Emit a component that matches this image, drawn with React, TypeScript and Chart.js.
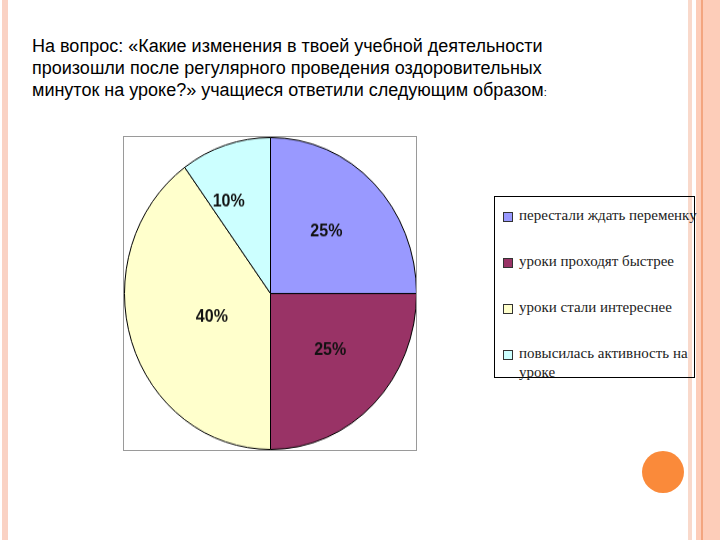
import React, { useEffect, useRef } from "react";
import { Chart, registerables } from "chart.js";

Chart.register(...registerables);

const categories = [
  "перестали ждать переменку",
  "уроки проходят быстрее",
  "уроки стали интереснее",
  "повысилась активность на уроке",
];
const shares = [25, 25, 40, 10];
const sliceColors = ["#9999FF", "#993366", "#FFFFCC", "#CCFFFF"];
const labelRadius = [0.55, 0.545, 0.43, 0.655];
const labelAngleFrac = [0.49, 0.46, 0.48, 0.28];

const titleLines = [
  "На вопрос: «Какие изменения в твоей учебной деятельности",
  "произошли после регулярного проведения оздоровительных",
  "минуток на уроке?» учащиеся ответили следующим образом",
];

const sliceLabelPlugin = {
  id: "sliceLabels",
  afterDatasetsDraw(chart: any) {
    const ctx = chart.ctx;
    const meta = chart.getDatasetMeta(0);
    const data = chart.data.datasets[0].data;
    ctx.save();
    ctx.font = "bold 16px 'Liberation Sans', Arial, sans-serif";
    ctx.fillStyle = "#111";
    ctx.textAlign = "center";
    ctx.textBaseline = "middle";
    meta.data.forEach((arc: any, i: number) => {
      const p = arc.getProps(["x", "y", "startAngle", "endAngle", "outerRadius"], true);
      const a = p.startAngle + (p.endAngle - p.startAngle) * labelAngleFrac[i];
      const r = p.outerRadius * labelRadius[i];
      ctx.fillText(`${data[i]}%`, p.x + Math.cos(a) * r, p.y + Math.sin(a) * r);
    });
    ctx.restore();
  },
};

function PieChart() {
  const ref = useRef<HTMLCanvasElement>(null);
  useEffect(() => {
    if (!ref.current) return;
    const chart = new Chart(ref.current, {
      type: "pie",
      data: {
        labels: categories,
        datasets: [
          {
            data: shares,
            backgroundColor: sliceColors,
            borderColor: "#000",
            borderWidth: 1,
          },
        ],
      },
      options: {
        responsive: false,
        maintainAspectRatio: false,
        animation: false,
        layout: { padding: 0 },
        plugins: { legend: { display: false }, tooltip: { enabled: false } },
      },
      plugins: [sliceLabelPlugin],
    });
    return () => chart.destroy();
  }, []);
  return (
    <canvas
      ref={ref}
      width={293}
      height={293}
      style={{ display: "block", transform: `scaleY(${313 / 293})`, transformOrigin: "0 0" }}
    />
  );
}

export default function App() {
  return (
    <div
      style={{
        position: "fixed",
        left: 0,
        top: 0,
        width: 720,
        height: 540,
        background: "#fff",
        overflow: "hidden",
      }}
    >
      {/* decorative stripes */}
      <div style={{ position: "absolute", left: 2, top: 0, width: 6, height: 540, background: "#FAD2C4" }} />
      <div style={{ position: "absolute", left: 688, top: 0, width: 4, height: 540, background: "#F9D9CB" }} />
      <div style={{ position: "absolute", left: 696, top: 0, width: 24, height: 540, background: "#FDCDB9" }} />
      <div style={{ position: "absolute", left: 701, top: 0, width: 2, height: 540, background: "#F3A57F" }} />
      <div
        style={{
          position: "absolute",
          left: 642,
          top: 451,
          width: 42,
          height: 42,
          borderRadius: "50%",
          background: "#FA8A3A",
        }}
      />

      {/* title */}
      <div
        style={{
          position: "absolute",
          left: 32,
          top: 35,
          fontFamily: "'Liberation Sans', Arial, sans-serif",
          fontSize: 18,
          lineHeight: "22px",
          color: "#000",
          whiteSpace: "nowrap",
        }}
      >
        {titleLines.map((l, i) => (
          <div key={i}>
            {l}
            {i === titleLines.length - 1 ? <span style={{ fontSize: 11 }}>:</span> : null}
          </div>
        ))}
      </div>

      {/* pie box */}
      <div
        style={{
          position: "absolute",
          left: 123,
          top: 136,
          width: 294,
          height: 315,
          boxSizing: "border-box",
          border: "1px solid #9a9a9a",
          overflow: "hidden",
        }}
      >
        <PieChart />
      </div>

      {/* legend */}
      <div
        style={{
          position: "absolute",
          left: 494,
          top: 196,
          width: 201,
          height: 182,
          boxSizing: "border-box",
          border: "1px solid #000",
          fontFamily: "'Liberation Serif', 'Times New Roman', serif",
          fontSize: 15,
          color: "#222",
        }}
      >
        {categories.map((c, i) => (
          <div
            key={i}
            style={{
              position: "absolute",
              left: 8,
              top: 9 + i * 46,
              width: 200,
              lineHeight: "19px",
              display: "flex",
              alignItems: "flex-start",
            }}
          >
            <span
              style={{
                display: "inline-block",
                width: 8,
                height: 8,
                marginTop: 6,
                marginRight: 6,
                flex: "0 0 auto",
                background: sliceColors[i],
                border: "1px solid #333",
              }}
            />
            <span style={{ width: 180 }}>{c}</span>
          </div>
        ))}
      </div>
    </div>
  );
}
